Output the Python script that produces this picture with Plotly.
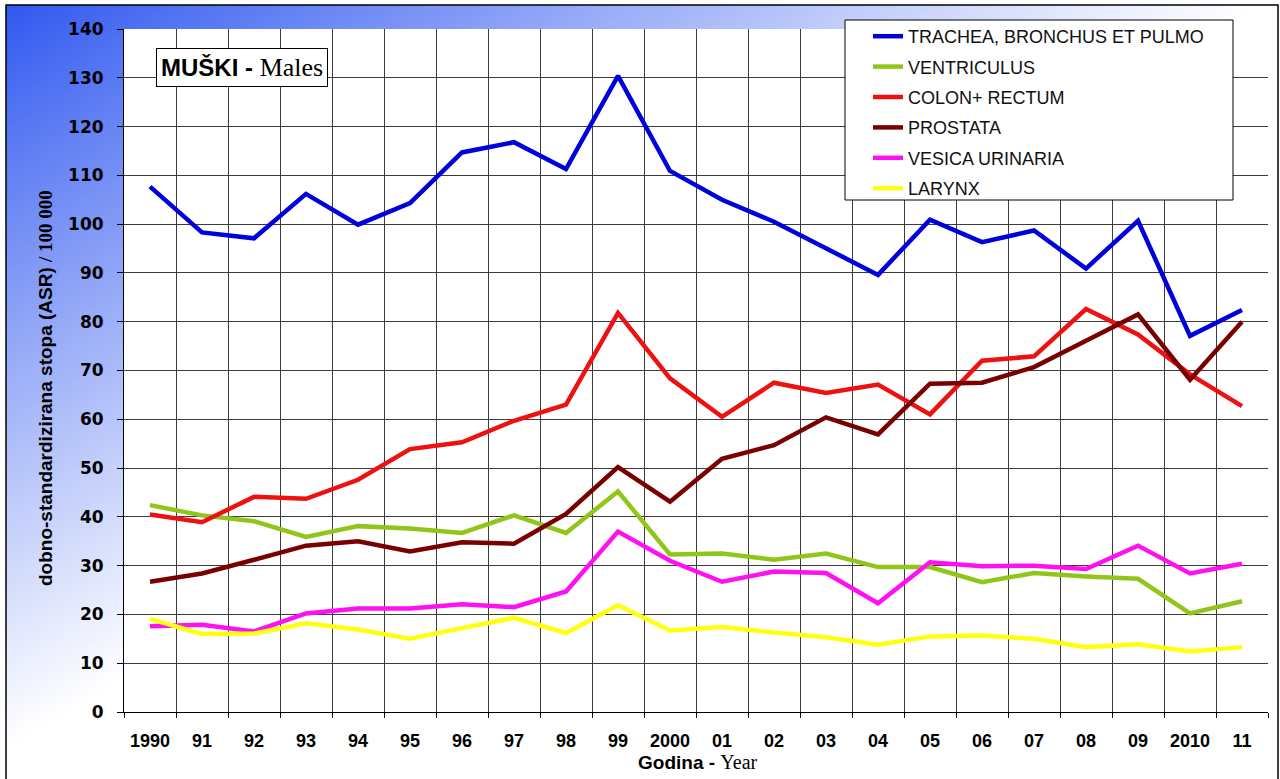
import base64
import struct
import zlib

import plotly.graph_objects as go

# ---------------- data ----------------
years = ["1990", "91", "92", "93", "94", "95", "96", "97", "98", "99", "2000",
         "01", "02", "03", "04", "05", "06", "07", "08", "09", "2010", "11"]

trachea = [107.7, 98.3, 97.1, 106.2, 99.9, 104.3, 114.7, 116.8, 111.3, 130.4, 110.9,
           105.0, 100.5, 95.1, 89.6, 100.9, 96.3, 98.7, 90.9, 100.7, 77.1, 82.4]
ventriculus = [42.4, 40.3, 39.1, 35.9, 38.1, 37.6, 36.7, 40.3, 36.7, 45.2, 32.3,
               32.5, 31.2, 32.5, 29.7, 29.7, 26.6, 28.5, 27.8, 27.3, 20.2, 22.7]
colon = [40.5, 38.9, 44.1, 43.7, 47.6, 53.9, 55.3, 59.7, 63.0, 81.8, 68.4,
         60.5, 67.5, 65.4, 67.1, 61.0, 72.0, 72.9, 82.6, 77.4, 69.2, 62.7]
prostata = [26.7, 28.4, 31.2, 34.1, 35.0, 32.9, 34.8, 34.5, 40.6, 50.2, 43.1,
            51.9, 54.7, 60.4, 56.9, 67.3, 67.5, 70.7, 76.1, 81.5, 68.1, 80.0]
vesica = [17.6, 17.9, 16.5, 20.2, 21.2, 21.2, 22.1, 21.5, 24.7, 37.0, 31.0,
          26.7, 28.8, 28.5, 22.3, 30.7, 29.9, 30.0, 29.3, 34.1, 28.4, 30.4]
larynx = [19.1, 16.0, 16.1, 18.2, 16.9, 15.0, 17.2, 19.3, 16.2, 21.9, 16.7,
          17.4, 16.3, 15.3, 13.8, 15.5, 15.7, 15.0, 13.3, 13.9, 12.4, 13.3]

series_names = ["TRACHEA, BRONCHUS ET PULMO", "VENTRICULUS", "COLON+ RECTUM",
                "PROSTATA", "VESICA URINARIA", "LARYNX"]
series_values = [trachea, ventriculus, colon, prostata, vesica, larynx]
series_colors = ["#0000DD", "#92C51A", "#EE1111", "#7A0000", "#FF10F0", "#FFFF10"]

# ---------------- geometry helpers ----------------
FIG_W, FIG_H = 1280, 779
M_L, M_R, M_T, M_B = 124, 12, 29, 67
PW = FIG_W - M_L - M_R
PH = FIG_H - M_T - M_B


def px_x(px):
    return (px - M_L) / PW


def px_y(py):
    return (FIG_H - M_B - py) / PH


# ---------------- background gradient (PNG generated in memory) ----------------
def gradient_png(w, h):
    top = (48, 88, 240)
    rows = []
    for j in range(h):
        row = bytearray([0])
        yy = (j + 0.5) / h * 774
        for i in range(w):
            xx = (i + 0.5) / w * 1272
            t = min(1.0, xx / 1250 + yy / 740)
            t = t ** 0.95
            row += bytes(int(round(c + (255 - c) * t)) for c in top)
        rows.append(bytes(row))
    raw = b"".join(rows)

    def chunk(tag, data):
        return (struct.pack(">I", len(data)) + tag + data +
                struct.pack(">I", zlib.crc32(tag + data) & 0xFFFFFFFF))

    png = (b"\x89PNG\r\n\x1a\n" +
           chunk(b"IHDR", struct.pack(">IIBBBBB", w, h, 8, 2, 0, 0, 0)) +
           chunk(b"IDAT", zlib.compress(raw, 9)) +
           chunk(b"IEND", b""))
    return "data:image/png;base64," + base64.b64encode(png).decode()


fig = go.Figure()

for i, (name, vals, col) in enumerate(zip(series_names, series_values, series_colors)):
    fig.add_trace(go.Scatter(
        x=years, y=vals, mode="lines", name=name,
        line=dict(color=col, width=4.5),
        legendgroup=f"g{i}",
        hoverinfo="skip",
    ))

grid_col = "#3c3c3c"

fig.update_layout(
    width=FIG_W, height=FIG_H,
    margin=dict(l=M_L, r=M_R, t=M_T, b=M_B, autoexpand=False),
    paper_bgcolor="white",
    plot_bgcolor="white",
    showlegend=True,
    legend=dict(
        x=px_x(868), y=px_y(18), xanchor="left", yanchor="top",
        bgcolor="rgba(0,0,0,0)", borderwidth=0,
        font=dict(family="Liberation Sans, Arial", size=18, color="#111111"),
        traceorder="grouped", tracegroupgap=4,
        itemwidth=30,
    ),
    xaxis=dict(
        type="category", range=[-0.5, 21.5],
        tickson="boundaries", ticks="outside", ticklen=5, tickcolor="black",
        showgrid=True, gridcolor=grid_col, gridwidth=1,
        showline=True, linecolor="black", linewidth=1,
        tickfont=dict(family="Liberation Sans, Arial", size=18, color="black", weight="bold"),
        ticklabelstandoff=12,
    ),
    yaxis=dict(
        range=[0, 140], dtick=10, tick0=0,
        ticks="outside", ticklen=6, tickcolor="black",
        showgrid=True, gridcolor=grid_col, gridwidth=1,
        zeroline=False,
        showline=True, linecolor="black", linewidth=1,
        tickfont=dict(family="DejaVu Sans, Arial", size=17, color="black", weight="bold"),
        ticklabelstandoff=10,
    ),
    images=[dict(
        source=gradient_png(160, 98),
        xref="paper", yref="paper",
        x=px_x(6), y=px_y(5),
        sizex=(1278 - 6) / PW, sizey=(779 - 5) / PH,
        xanchor="left", yanchor="top",
        sizing="stretch", layer="below",
    )],
    shapes=[
        # white plot area over the gradient
        dict(type="rect", xref="paper", yref="paper", x0=0, x1=1, y0=0, y1=1,
             fillcolor="white", line=dict(width=0), layer="below"),
        # legend box
        dict(type="rect", xref="paper", yref="paper",
             x0=px_x(845), x1=px_x(1233), y0=px_y(200), y1=px_y(20),
             fillcolor="white", line=dict(color="black", width=1), layer="above"),
        # outer frame
        dict(type="rect", xref="paper", yref="paper",
             x0=px_x(6), x1=px_x(1278), y0=px_y(790), y1=px_y(5),
             fillcolor="rgba(0,0,0,0)", line=dict(color="black", width=1.5), layer="above"),
    ],
    annotations=[
        dict(
            text="<b>MUŠKI -</b> <span style='font-family:Liberation Serif, Times New Roman; font-size:26px'>Males</span>",
            xref="paper", yref="paper", x=px_x(241.5), y=px_y(67.5),
            xanchor="center", yanchor="middle", showarrow=False,
            font=dict(family="Liberation Sans, Arial", size=24, color="black"),
            bgcolor="white", bordercolor="black", borderwidth=1, borderpad=4,
        ),
        dict(
            text="<b>dobno-standardizirana stopa (ASR)</b> <span style='font-family:Liberation Serif, Times New Roman'><b>/ 100 000</b></span>",
            xref="paper", yref="paper", x=px_x(45), y=px_y(388),
            xanchor="center", yanchor="middle", showarrow=False, textangle=-90,
            font=dict(family="Liberation Sans, Arial", size=19, color="black"),
        ),
        dict(
            text="<b>Godina -</b> <span style='font-family:Liberation Serif, Times New Roman; font-size:20px'>Year</span>",
            xref="paper", yref="paper", x=px_x(698), y=px_y(762),
            xanchor="center", yanchor="middle", showarrow=False,
            font=dict(family="Liberation Sans, Arial", size=19, color="black"),
        ),
    ],
)

fig.write_html("out.html", config={"displayModeBar": False},
               post_script="document.body.style.margin='0px';")
